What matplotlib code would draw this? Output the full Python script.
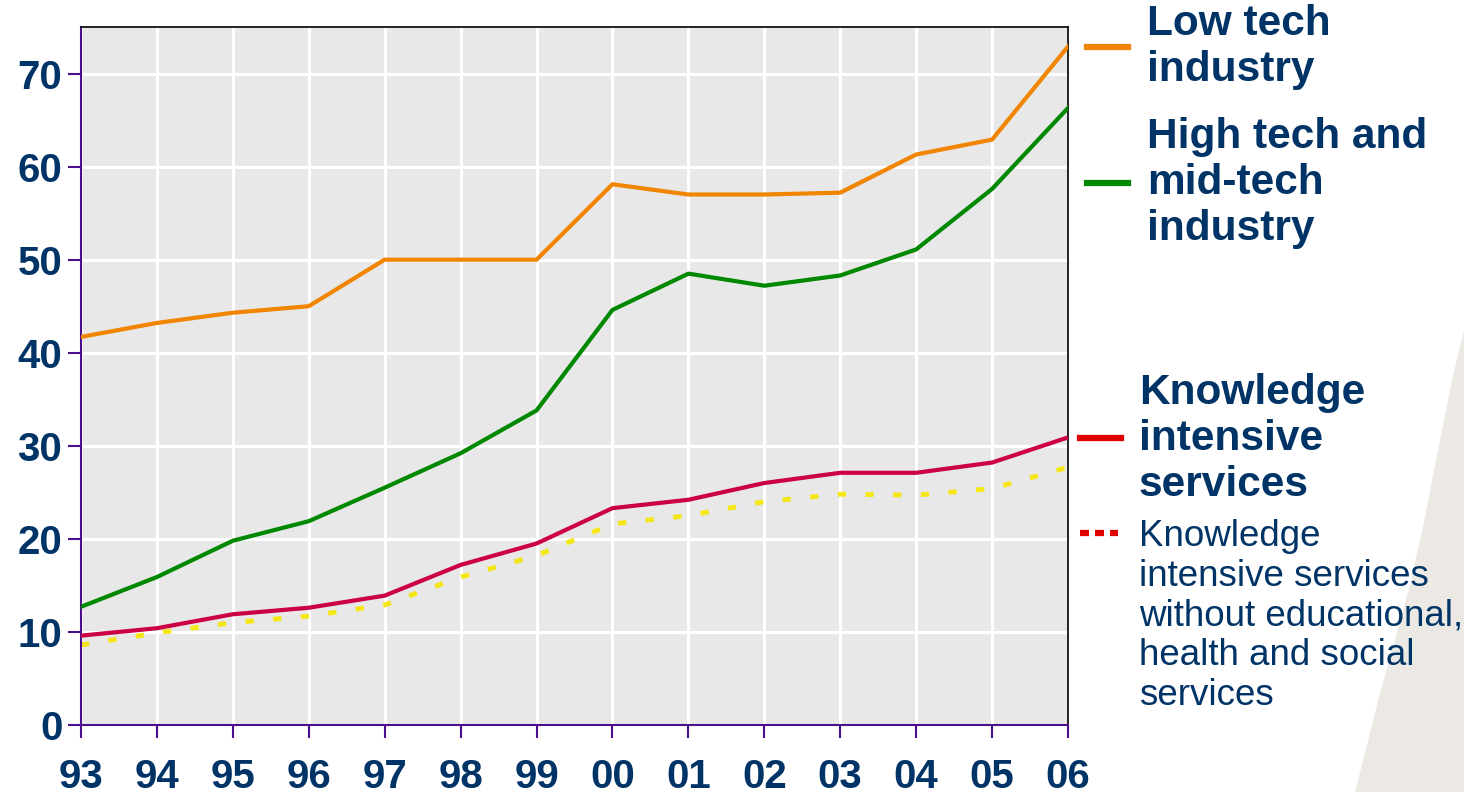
import matplotlib.pyplot as plt
from matplotlib.patches import Polygon
from matplotlib.lines import Line2D

plt.rcParams['font.family'] = ['Liberation Sans', 'DejaVu Sans']

years = list(range(1993, 2007))
year_labels = ['93', '94', '95', '96', '97', '98', '99', '00', '01', '02', '03', '04', '05', '06']

low_tech = [41.7, 43.2, 44.3, 45.0, 50.0, 50.0, 50.0, 58.1, 57.0, 57.0, 57.2, 61.3, 62.9, 72.9]
high_mid_tech = [12.7, 15.9, 19.8, 21.9, 25.5, 29.2, 33.8, 44.6, 48.5, 47.2, 48.3, 51.1, 57.6, 66.3]
knowledge = [9.6, 10.4, 11.9, 12.6, 13.9, 17.2, 19.5, 23.3, 24.2, 26.0, 27.1, 27.1, 28.2, 30.9]
knowledge_excl = [8.6, 9.9, 11.0, 11.7, 12.9, 15.9, 18.2, 21.6, 22.5, 24.0, 24.8, 24.7, 25.4, 27.7]

navy = '#003366'
purple = '#4B0F8C'

fig = plt.figure(figsize=(14.64, 7.92), dpi=100)

# light swoosh in the lower right corner of the slide
W, H = 1464, 792
swoosh = [(1464, 330), (1452, 380), (1438, 450), (1423, 527), (1410, 585),
          (1395, 640), (1380, 693), (1367, 745), (1355, 792), (1464, 792)]
fig.patches.append(Polygon([(x / W, 1 - y / H) for x, y in swoosh], closed=True,
                           transform=fig.transFigure, facecolor='#ECE9E4',
                           edgecolor='none', zorder=0))

ax = fig.add_axes([81 / W, 1 - 725 / H, (1068 - 81) / W, (725 - 27) / H])
ax.set_facecolor('#E8E8E8')

ax.plot(years, low_tech, color='#F28500', lw=3, zorder=3)
ax.plot(years, high_mid_tech, color='#008800', lw=3, zorder=3)
ax.plot(years, knowledge, color='#CC0044', lw=3, zorder=3)
ax.plot(years, knowledge_excl, color='#F5E616', lw=3.5, dashes=(1.7, 4.0), zorder=2)

ax.set_xlim(1993, 2006)
ax.set_ylim(0, 75)
ax.set_xticks(years)
ax.set_xticklabels(year_labels)
ax.set_yticks(range(0, 80, 10))
ax.grid(True, color='white', lw=2.2)
ax.set_axisbelow(True)

for side in ['left', 'bottom']:
    ax.spines[side].set_color(purple)
    ax.spines[side].set_linewidth(1.5)
for side in ['top', 'right']:
    ax.spines[side].set_color('black')
    ax.spines[side].set_linewidth(1.2)

ax.tick_params(axis='both', colors=purple, length=9.5, width=1.5, labelcolor=navy)
ax.tick_params(axis='x', pad=14)
ax.tick_params(axis='y', pad=4)
for lab in ax.get_xticklabels() + ax.get_yticklabels():
    lab.set_fontsize(29)
    lab.set_fontweight('bold')

# legend entries drawn by hand on the right
def handle(x0, x1, y, color, **kw):
    fig.add_artist(Line2D([x0 / W, x1 / W], [1 - y / H, 1 - y / H],
                          transform=fig.transFigure, color=color, lw=4.5, **kw))

handle(1087, 1128, 47, '#F28500')
fig.text(1147 / W, 1 - 47 / H, 'Low tech\nindustry', fontsize=30.5, fontweight='bold',
         color=navy, va='center', ha='left', linespacing=1.19)

handle(1087, 1128, 183, '#008800')
fig.text(1147 / W, 1 - 183 / H, 'High tech and\nmid-tech\nindustry', fontsize=30.5,
         fontweight='bold', color=navy, va='center', ha='left', linespacing=1.19)

handle(1080, 1121, 438, '#E00000')
fig.text(1139 / W, 1 - 439 / H, 'Knowledge\nintensive\nservices', fontsize=30.5,
         fontweight='bold', color=navy, va='center', ha='left', linespacing=1.19)

handle(1080, 1118, 533, '#E00000', dashes=(1.44, 0.96))
fig.text(1139 / W, 1 - 616 / H,
         'Knowledge\nintensive services\nwithout educational,\nhealth and social\nservices',
         fontsize=26.5, color=navy, va='center', ha='left', linespacing=1.17)

fig.savefig('out.png', dpi=100)
